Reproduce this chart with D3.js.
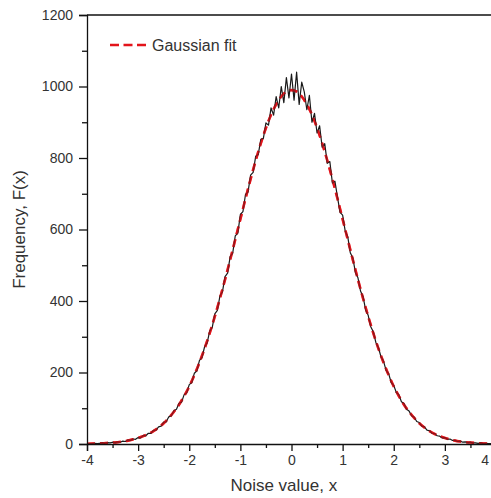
<!DOCTYPE html>
<html>
<head>
<meta charset="utf-8">
<script src="https://cdn.jsdelivr.net/npm/d3@7"></script>
<style>
  body { margin: 0; background: #fff; overflow: hidden; }
  svg { display: block; font-family: "Liberation Sans", Arial, sans-serif; }
  .tick-label { font-size: 14px; fill: #333; }
  .title { font-size: 17px; fill: #333; }
</style>
</head>
<body>
<div id="chart"></div>
<script>
// measured noise histogram, x from -4 to 4 in steps of 0.05
var noiseStart = -4, noiseStep = 0.05;
var noiseCounts = [
  // -4.00 .. -0.05
  0, 1, 1, 2, 1, 2, 3, 2, 4, 3,
  5, 4, 6, 5, 8, 7, 11, 10, 14, 13,
  18, 17, 24, 23, 30, 30, 38, 39, 48, 50,
  61, 62, 76, 79, 93, 97, 114, 117, 138, 143,
  166, 172, 198, 205, 234, 242, 272, 283, 316, 326,
  364, 374, 414, 426, 468, 478, 524, 534, 582, 590,
  642, 650, 698, 705, 752, 760, 805, 810, 852, 855,
  898, 892, 940, 920, 972, 940, 1000, 955, 1025, 968,
  // 0.00
  1035,
  // 0.05 .. 4.00
  962, 1040, 950, 1012, 985, 935, 975, 900, 925, 870,
  890, 830, 840, 785, 790, 730, 735, 690, 648, 640,
  596, 580, 535, 520, 480, 465, 428, 412, 375, 360,
  328, 314, 284, 270, 244, 232, 206, 197, 172, 164,
  144, 138, 118, 113, 97, 92, 79, 75, 63, 60,
  50, 48, 39, 37, 30, 29, 23, 22, 17, 18,
  13, 14, 10, 10, 7, 8, 5, 6, 4, 5,
  3, 3, 2, 3, 1, 2, 1, 1, 0, 1
];

// gaussian fit read at x from -4 to 4 in steps of 0.1
var fitStart = -4, fitStep = 0.1;
var fitValues = [
  0.7, 1, 1.4, 2, 3, 4, 5, 7, 9.5, 13,
  17, 22, 28, 36, 46, 58, 73, 90, 110, 134,
  161, 193, 228, 267, 310, 357, 407, 460, 515, 572,
  629, 686, 741, 793, 841, 884, 921, 950, 972, 986,
  990,
  986, 972, 950, 921, 884, 841, 793, 741, 686, 629,
  572, 515, 460, 407, 357, 310, 267, 228, 193, 161,
  134, 110, 90, 73, 58, 46, 36, 28, 22, 17,
  13, 9.5, 7, 5, 4, 3, 2, 1.4, 1, 0.7
];

var xTicks = [-4, -3, -2, -1, 0, 1, 2, 3, 4];
var xMinor = [-3.5, -2.5, -1.5, -0.5, 0.5, 1.5, 2.5, 3.5];
var yTicks = [0, 200, 400, 600, 800, 1000, 1200];
var yMinor = [100, 300, 500, 700, 900, 1100];
var legendLabel = "Gaussian fit";

var width = 491, height = 498;
var margin = {left: 87, top: 15};
var plotW = 409, plotH = 429;

var svg = d3.select("#chart").append("svg")
  .attr("width", width)
  .attr("height", height);

var x = d3.scaleLinear().domain([-4, 4]).range([margin.left, margin.left + plotW]);
var y = d3.scaleLinear().domain([0, 1200]).range([margin.top + plotH, margin.top]);

var noise = noiseCounts.map(function(v, i){ return {x: noiseStart + i*noiseStep, y: v}; });
var fit = fitValues.map(function(v, i){ return {x: fitStart + i*fitStep, y: v}; });

var fitLine = d3.line().x(function(d){return x(d.x);}).y(function(d){return y(d.y);}).curve(d3.curveMonotoneX);

svg.append("path")
  .datum(fit)
  .attr("fill", "none")
  .attr("stroke", "#e3141b")
  .attr("stroke-width", 2.6)
  .attr("stroke-dasharray", "8,5")
  .attr("d", fitLine);

svg.append("path")
  .datum(noise)
  .attr("fill", "none")
  .attr("stroke", "#1a1a1a")
  .attr("stroke-width", 1.2)
  .attr("stroke-linejoin", "round")
  .attr("d", d3.line().x(function(d){return x(d.x);}).y(function(d){return y(d.y);}));

// fit again on top, semi-transparent so both lines show
svg.append("path")
  .datum(fit)
  .attr("fill", "none")
  .attr("stroke", "#e3141b")
  .attr("stroke-width", 2.2)
  .attr("stroke-opacity", 0.55)
  .attr("stroke-dasharray", "8,5")
  .attr("d", fitLine);

// axes
var xAxis = d3.axisBottom(x).tickValues(xTicks).tickSize(7).tickPadding(4);
var gx = svg.append("g").attr("transform", "translate(0," + y(0) + ")").call(xAxis);
gx.selectAll(".tick text")
  .attr("class", "tick-label").attr("font-size", null).attr("font-family", null)
  .text(function(d){ return d < 0 ? "-" + Math.abs(d) : d; })
  .filter(function(d){ return d === 4; })
  .attr("text-anchor", "end")
  .attr("dx", -1);
// last label sits off the window edge, pull it in
gx.selectAll(".tick").filter(function(d){ return d === 4; }).attr("transform", "translate(" + (width - 1) + ",0)")
  .select("line").remove();
svg.append("g").attr("transform", "translate(0," + y(0) + ")")
  .call(d3.axisBottom(x).tickValues(xMinor).tickSize(4).tickFormat(""))
  .select(".domain").remove();

var yAxis = d3.axisLeft(y).tickValues(yTicks).tickSize(8).tickPadding(6).tickFormat(d3.format("d"));
var gy = svg.append("g").attr("transform", "translate(" + x(-4) + ",0)").call(yAxis);
gy.selectAll(".tick text").attr("class", "tick-label").attr("font-size", null).attr("font-family", null);
svg.append("g").attr("transform", "translate(" + x(-4) + ",0)")
  .call(d3.axisLeft(y).tickValues(yMinor).tickSize(5).tickFormat(""))
  .select(".domain").remove();

svg.selectAll(".domain, .tick line").attr("stroke", "#111").attr("stroke-width", 1.3);

// top frame line
svg.append("line")
  .attr("x1", x(-4)).attr("x2", x(4))
  .attr("y1", y(1200)).attr("y2", y(1200))
  .attr("stroke", "#111").attr("stroke-width", 1.3);

// titles
svg.append("text")
  .attr("class", "title")
  .attr("x", x(-0.15))
  .attr("y", 491)
  .attr("text-anchor", "middle")
  .text("Noise value, x");

svg.append("text")
  .attr("class", "title")
  .attr("transform", "translate(25," + y(600) + ") rotate(-90)")
  .attr("text-anchor", "middle")
  .text("Frequency, F(x)");

// legend
svg.append("line")
  .attr("x1", 110).attr("x2", 149)
  .attr("y1", 45).attr("y2", 45)
  .attr("stroke", "#e3141b")
  .attr("stroke-width", 2.6)
  .attr("stroke-dasharray", "9,4.5");
svg.append("text")
  .attr("class", "title")
  .attr("x", 152)
  .attr("y", 51)
  .style("font-size", "16px")
  .text(legendLabel);
</script>
</body>
</html>
